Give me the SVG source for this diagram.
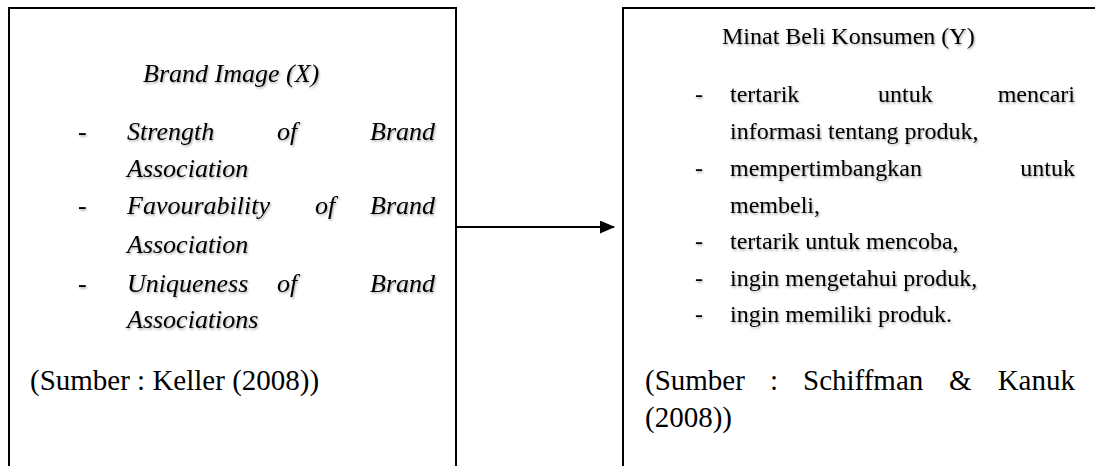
<svg xmlns="http://www.w3.org/2000/svg" width="1095" height="466" viewBox="0 0 1095 466">
<defs>
<style>
text{font-family:'Liberation Serif','Times New Roman',Times,'DejaVu Serif',serif;fill:#000}
.box{fill:none;stroke:#000;stroke-width:2}
.l{font-size:26px;font-style:italic}
.r{font-size:24px}
.s{font-size:29px}
.e{text-anchor:end}
.conn{stroke:#000;stroke-width:2;fill:none}
</style>
<filter id="sh" x="-5%" y="-20%" width="110%" height="140%">
<feDropShadow dx="1" dy="1.5" stdDeviation="1" flood-color="#000" flood-opacity="0.35"/>
</filter>
<marker id="arr" markerWidth="15" markerHeight="13" refX="14" refY="6.5" orient="auto" markerUnits="userSpaceOnUse">
<path d="M0,0 L15,6.5 L0,13 Z" fill="#000"/>
</marker>
</defs>
<rect width="1095" height="466" fill="#fff"/>
<g id="node-brand-image">
<path class="box" d="M9,470 V8 H456 V470"/>
<g filter="url(#sh)">
<text class="l" x="143" y="82">Brand Image (X)</text>
<text class="l" x="78" y="140">-</text>
<text class="l" x="127" y="140">Strength</text>
<text class="l" x="277" y="140">of</text>
<text class="l e" x="435" y="140">Brand</text>
<text class="l" x="127" y="177">Association</text>
<text class="l" x="78" y="214">-</text>
<text class="l" x="127" y="214">Favourability</text>
<text class="l" x="315" y="214">of</text>
<text class="l e" x="435" y="214">Brand</text>
<text class="l" x="127" y="253">Association</text>
<text class="l" x="78" y="292">-</text>
<text class="l" x="127" y="292">Uniqueness</text>
<text class="l" x="277" y="292">of</text>
<text class="l e" x="435" y="292">Brand</text>
<text class="l" x="127" y="328">Associations</text>
</g>
<text class="s" x="30" y="390">(Sumber : Keller (2008))</text>
</g>
<g id="node-minat-beli">
<path class="box" d="M623,470 V8 H1100"/>
<g filter="url(#sh)">
<text class="r" x="722" y="44">Minat Beli Konsumen (Y)</text>
<text class="r" x="695" y="102">-</text>
<text class="r" x="730" y="102">tertarik</text>
<text class="r" x="878" y="102">untuk</text>
<text class="r e" x="1075" y="102">mencari</text>
<text class="r" x="730" y="139">informasi tentang produk,</text>
<text class="r" x="695" y="176">-</text>
<text class="r" x="730" y="176">mempertimbangkan</text>
<text class="r e" x="1075" y="176">untuk</text>
<text class="r" x="730" y="213">membeli,</text>
<text class="r" x="695" y="249">-</text>
<text class="r" x="730" y="249">tertarik untuk mencoba,</text>
<text class="r" x="695" y="286">-</text>
<text class="r" x="730" y="286">ingin mengetahui produk,</text>
<text class="r" x="695" y="322">-</text>
<text class="r" x="730" y="322">ingin memiliki produk.</text>
</g>
<text class="s" x="645" y="390">(Sumber</text>
<text class="s" x="770" y="390">:</text>
<text class="s" x="803" y="390">Schiffman</text>
<text class="s" x="949" y="390">&amp;</text>
<text class="s e" x="1075" y="390">Kanuk</text>
<text class="s" x="645" y="427">(2008))</text>
</g>
<g id="connectors">
<line class="conn" x1="456" y1="227" x2="614" y2="227" marker-end="url(#arr)"/>
</g>
</svg>
